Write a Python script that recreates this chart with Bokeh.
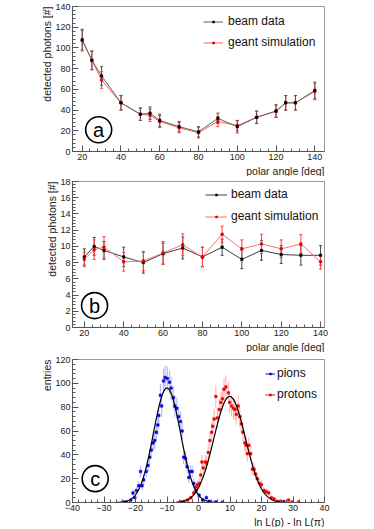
import numpy as np
from bokeh.plotting import figure
from bokeh.layouts import column
from bokeh.models import (ColumnDataSource, Whisker, Legend, LegendItem, Title,
                          FixedTicker, Range1d, TeeHead)
from bokeh.core.properties import value
from bokeh.embed import file_html
from bokeh.resources import INLINE

FONT = "Liberation Sans"

# ---------------- data: panel a ----------------
angle_a = [20, 25, 30, 40, 50, 55, 60, 70, 80, 90, 100, 110, 120, 125, 130, 140]
beam_a = [108, 88, 73, 47, 36, 37, 30, 24, 19, 32, 24, 33, 39, 47, 47, 59]
beam_a_err = [10, 9, 9, 7, 6, 6, 6, 5, 5, 5, 6, 6, 6, 7, 7, 8]
sim_a = [107, 88, 69, 47, 36, 35, 29, 23, 18, 29, 25, 33, 39, 47, 47, 58]
sim_a_err = [10, 9, 8, 7, 6, 6, 6, 5, 5, 5, 5, 6, 6, 7, 7, 8]

# ---------------- data: panel b ----------------
angle_b = [20, 25, 30, 40, 50, 60, 70, 80, 90, 100, 110, 120, 130, 140]
beam_b = [8.7, 10.0, 9.5, 8.7, 8.0, 9.1, 9.8, 8.7, 9.9, 8.4, 9.5, 9.0, 8.9, 8.9]
beam_b_err = [1.0, 1.1, 1.1, 1.2, 1.3, 1.3, 1.35, 1.2, 1.0, 1.15, 1.2, 1.1, 1.2, 1.2]
sim_b = [8.4, 9.6, 9.9, 8.1, 8.2, 9.2, 10.2, 8.7, 11.5, 9.7, 10.3, 9.7, 10.3, 8.1]
sim_b_err = [0.9, 1.2, 1.3, 1.15, 1.2, 1.4, 1.35, 1.2, 1.0, 1.1, 1.2, 1.1, 1.15, 0.9]

# ---------------- data: panel c ----------------
pion_x = [-23.9, -22.9, -21.5, -20.8, -20.2, -19.7, -19.0, -18.4, -17.9, -17.4,
          -16.6, -16.0, -15.5, -15.0, -14.4, -13.9, -13.4, -12.9, -12.6, -12.1,
          -11.7, -11.1, -10.6, -9.9, -9.2, -8.7, -8.0, -7.5, -6.9, -6.3,
          -5.7, -5.2, -4.7, -4.1, -3.6, -3.1, -2.6, -2.0, -1.5, -0.8,
          0.2, 1.3, 2.5, 3.4, 5.5, 7.6]
pion_n = [0.5, 0.5, 2, 8, 4, 10, 14, 26, 14, 19,
          26, 31, 38, 44, 50, 52, 59, 65, 73, 90,
          81, 102, 105, 104, 101, 96, 88, 81, 79, 72,
          68, 60, 38, 37, 30, 21, 26, 26, 16, 10,
          6, 2, 4, 1, 0.5, 0.3]
proton_x = [-5.5, -4.5, -3.4, -2.4, -1.5, -0.8, -0.3, 0.3, 0.7, 1.1,
            1.5, 2.2, 2.6, 3.1, 3.6, 4.2, 4.5, 5.0, 5.5, 6.0,
            6.6, 7.1, 7.6, 8.1, 8.7, 9.5, 9.9, 10.5, 11.1, 11.6,
            12.0, 12.6, 13.1, 13.6, 14.1, 14.7, 15.1, 15.5, 16.0, 16.6,
            17.1, 17.6, 18.1, 18.7, 19.4, 20.0, 20.8, 21.5, 22.3, 23.1,
            24.0, 25.0, 26.0, 27.1, 28.6, 29.7, 31.8]
proton_n = [0.5, 1, 2, 4, 8, 13, 15, 16, 23, 34,
            29, 34, 33, 42, 52, 59, 64, 70, 89, 71,
            78, 84, 87, 95, 97, 92, 84, 81, 79, 78,
            74, 81, 72, 66, 59, 50, 48, 41, 48, 41,
            28, 28, 24, 20, 16, 15, 10, 9, 8, 4,
            3, 1, 1, 1, 2, 0.5, 0.5]
# Gaussian fit parameters (amplitude, mean, sigma) and fit ranges
pion_fit = (96.0, -10.0, 4.3)
pion_fit_range = (-26.0, 6.0)
proton_fit = (89.0, 9.9, 5.0)
proton_fit_range = (-7.0, 28.0)

ticks_x_a = [20, 40, 60, 80, 100, 120, 140]
ticks_y_a = [0, 20, 40, 60, 80, 100, 120, 140]
ticks_y_b = [0, 2, 4, 6, 8, 10, 12, 14, 16, 18]
ticks_x_c = [-40, -30, -20, -10, 0, 10, 20, 30, 40]
ticks_y_c = [0, 20, 40, 60, 80, 100, 120]

FIG_W = 370
LEFT = 72


def make_fig(height, xr, yr, top, bottom, right, xticks, yticks):
    p = figure(width=FIG_W, height=height, x_range=Range1d(*xr), y_range=Range1d(*yr),
               output_backend="svg", toolbar_location=None,
               min_border_left=LEFT, min_border_right=right,
               min_border_top=top, min_border_bottom=bottom)
    p.background_fill_color = "white"
    p.border_fill_color = "white"
    p.outline_line_color = "#999999"
    p.outline_line_width = 1
    p.xgrid.grid_line_color = None
    p.ygrid.grid_line_color = None
    for ax in (p.xaxis[0], p.yaxis[0]):
        ax.axis_line_color = "#555555"
        ax.major_tick_line_color = "#555555"
        ax.minor_tick_line_color = "#555555"
        ax.major_tick_in = 6
        ax.major_tick_out = 0
        ax.minor_tick_in = 3
        ax.minor_tick_out = 0
        ax.major_label_text_font = FONT
        ax.major_label_text_font_size = "9px"
        ax.major_label_text_color = "#222222"
        ax.major_label_standoff = 2
    p.xaxis[0].ticker = FixedTicker(ticks=xticks, minor_ticks=list(
        np.linspace(xticks[0], xticks[-1], (len(xticks) - 1) * 5 + 1)))
    p.yaxis[0].ticker = FixedTicker(ticks=yticks, minor_ticks=list(
        np.linspace(yticks[0], yticks[-1], (len(yticks) - 1) * 5 + 1)))
    return p


def add_labels(p, xlabel, ylabel):
    yl = Title(text=ylabel, align="right", text_font=FONT, text_font_size="10.5px",
               text_font_style="normal", standoff=0, offset=0, text_color="#222222")
    p.add_layout(yl, "left")
    xl = Title(text=xlabel, align="right", text_font=FONT, text_font_size="10.5px",
               text_font_style="normal", standoff=0, offset=0, text_color="#222222")
    p.add_layout(xl, "below")


def add_series(p, x, y, err, line_color, marker_color, err_color, cap=True, lw=1.0,
               err_alpha=1.0, err_width=1.0):
    lo = [a - b for a, b in zip(y, err)]
    up = [a + b for a, b in zip(y, err)]
    src = ColumnDataSource(dict(x=x, y=y, lo=lo, up=up))
    if cap:
        w = Whisker(source=src, base="x", lower="lo", upper="up", line_color=err_color,
                    line_width=err_width, line_alpha=err_alpha,
                    upper_head=TeeHead(size=3, line_color=err_color, line_width=1),
                    lower_head=TeeHead(size=3, line_color=err_color, line_width=1))
    else:
        w = Whisker(source=src, base="x", lower="lo", upper="up", line_color=err_color,
                    line_width=err_width, line_alpha=err_alpha,
                    upper_head=None, lower_head=None)
    p.add_layout(w)
    rl = None
    if line_color is not None:
        rl = p.line("x", "y", source=src, line_color=line_color, line_width=lw)
    rs = p.scatter("x", "y", source=src, marker="square", size=2.5,
                   fill_color=marker_color, line_color=marker_color, line_width=0.5)
    return rl, rs


def add_legend(p, items, vx, vy, glyph_w, standoff, row_h):
    leg = Legend(items=items, location=(vx, vy), border_line_color=None,
                 background_fill_alpha=0, padding=0, margin=0, spacing=0,
                 label_height=row_h, glyph_height=5, glyph_width=glyph_w,
                 label_standoff=standoff, label_text_font=FONT,
                 label_text_font_size="12px", label_text_color="#111111")
    p.add_layout(leg)


def add_tag(p, x, y, letter):
    p.scatter(x=[x], y=[y], marker="circle", size=26, fill_color=None,
              line_color="black", line_width=1.6)
    p.text(x=[x], y=[y], text=[letter], text_align="center", text_baseline="middle",
           text_font=value(FONT), text_font_size="20px", text_color="black")


# ---------------- panel a ----------------
pa = make_fig(176, (15, 145), (0, 140), 6, 24, FIG_W - 324, ticks_x_a, ticks_y_a)
add_labels(pa, "polar angle [deg]", "detected photons [#]")
sl, ss = add_series(pa, angle_a, sim_a, sim_a_err, "#ff6060", "#dd0000", "#ff4040")
bl, bs = add_series(pa, angle_a, beam_a, beam_a_err, "#606060", "#000000", "#555555")
add_legend(pa, [LegendItem(label="beam data", renderers=[bl, bs]),
                LegendItem(label="geant simulation", renderers=[sl, ss])],
           131, 146 - 5.5 - 42, 20, 5, 21)
add_tag(pa, 28.5, 21, "a")

# ---------------- panel b ----------------
pb = make_fig(176, (14, 142), (0, 18), 5, 23, FIG_W - 324, ticks_x_a, ticks_y_b)
add_labels(pb, "polar angle [deg]", "detected photons [#]")
bl2, bs2 = add_series(pb, angle_b, beam_b, beam_b_err, "#404040", "#000000", "#444444")
sl2, ss2 = add_series(pb, angle_b, sim_b, sim_b_err, "#ff7070", "#dd0000", "#ff4040")
add_legend(pb, [LegendItem(label="beam data", renderers=[bl2, bs2]),
                LegendItem(label="geant simulation", renderers=[sl2, ss2])],
           133, 148 - 4 - 44, 22, 4, 22)
add_tag(pb, 25.2, 2.7, "b")

# ---------------- panel c ----------------
pc = make_fig(175, (-40, 40), (0, 120), 7, 23, FIG_W - 326, ticks_x_c, ticks_y_c)
pc.xaxis[0].major_label_overrides = {-40: "\u221240", -30: "\u221230",
                                     -20: "\u221220", -10: "\u221210"}
add_labels(pc, "ln L(p) - ln L(\u03c0)", "entries")


def gauss(x, par):
    a, m, s = par
    return a * np.exp(-0.5 * ((x - m) / s) ** 2)


gx_p = np.linspace(pion_fit_range[0], pion_fit_range[1], 300)
gx_r = np.linspace(proton_fit_range[0], proton_fit_range[1], 300)

_, ps = add_series(pc, pion_x, pion_n, [float(np.sqrt(v)) for v in pion_n],
                   None, "#0000ee", "#8080ff", cap=False, err_alpha=0.55, err_width=1.2)
_, rs = add_series(pc, proton_x, proton_n, [float(np.sqrt(v)) for v in proton_n],
                   None, "#ee0000", "#ff8080", cap=False, err_alpha=0.55, err_width=1.2)
pc.line(gx_p, gauss(gx_p, pion_fit), line_color="black", line_width=1.2)
pc.line(gx_r, gauss(gx_r, proton_fit), line_color="black", line_width=1.2)
# legend proxies
lp = pc.line([np.nan], [np.nan], line_color="#0000ee", line_width=1)
lr = pc.line([np.nan], [np.nan], line_color="#ee0000", line_width=1)
add_legend(pc, [LegendItem(label="pions", renderers=[lp, ps]),
                LegendItem(label="protons", renderers=[lr, rs])],
           193, 145 - 5.5 - 42, 10, 2, 21)
add_tag(pc, -32.8, 20, "c")

layout = column(pa, pb, pc, spacing=0)
open("out.html", "w").write(file_html(layout, INLINE))
